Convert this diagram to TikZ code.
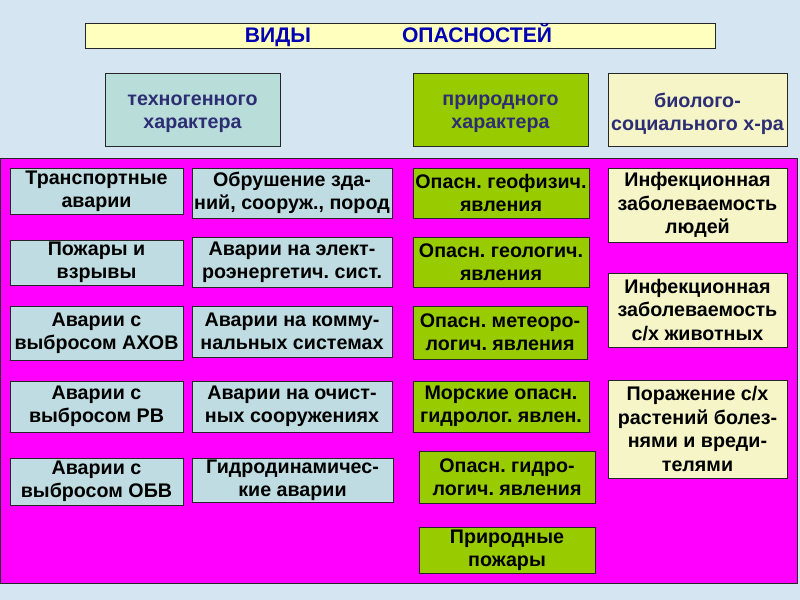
\documentclass[tikz,border=0pt]{standalone}
\usepackage{fontspec}
\setmainfont{Liberation Sans}
\frenchspacing
\definecolor{bgblue}{RGB}{214,229,242}
\definecolor{titleyel}{RGB}{255,255,190}
\definecolor{titleblue}{RGB}{0,0,180}
\definecolor{hdrtext}{RGB}{45,45,115}
\definecolor{teal}{RGB}{185,222,218}
\definecolor{lime}{RGB}{153,204,0}
\definecolor{cream}{RGB}{245,245,200}
\definecolor{mag}{RGB}{255,0,255}
\definecolor{boxblue}{RGB}{190,220,226}
\newcommand\bx[7]{\node[#6, minimum width={0.03cm*(#4-#2)}, minimum height={0.03cm*(#5-#3)}] (#1) at ({(#2+#4)/2},{(#3+#5)/2}) {#7};}
\tikzset{
  base/.style={draw=black!85, line width=0.8pt, inner sep=0pt, align=center, font=\bfseries\fontsize{16.8}{20}\selectfont},
  hdr/.style={base, fill=#1},
  hdrtxt/.style={text=hdrtext, inner sep=0pt, align=center, font=\bfseries\fontsize{16.8}{20}\selectfont},
  tbox/.style={base, fill=boxblue},
  gbox/.style={base, fill=lime},
  cbox/.style={base, fill=cream},
  ttl/.style={text=titleblue, font=\fontsize{18}{20}\selectfont\bfseries, inner sep=0pt, anchor=base},
}
\begin{document}
\begin{tikzpicture}[x=0.03cm, y=-0.03cm]
\fill[bgblue] (0,0) rectangle (800,600);
\useasboundingbox (0,0) rectangle (800,600);
% title
\bx{title}{85}{23}{715}{48}{base, fill=titleyel}{}
\node[ttl] (t1) at (278,43) {ВИДЫ};
\node[ttl] (t2) at (477,43) {ОПАСНОСТЕЙ};
% headers
\bx{h1}{105}{73}{280}{146}{hdr=teal}{}
\bx{h2}{413}{73}{588}{146}{hdr=lime}{}
\bx{h3}{608}{73}{787}{146}{hdr=cream}{}
\node[hdrtxt] (h1t) at (192.5,114) {техногенного\\характера};
\node[hdrtxt] (h2t) at (500.5,114) {природного\\характера};
\node[hdrtxt] (h3t) at (697.5,114) {биолого-\\социального х-ра};
% panel
\draw[fill=mag, draw=black!85, line width=0.8pt] (0,158) rectangle (797,583);
% column 1
\bx{a1}{10}{168}{183}{214}{tbox}{Транспортные\\аварии}
\bx{a2}{10}{240}{183}{285}{tbox}{Пожары и\\взрывы}
\bx{a3}{10}{306}{183}{360}{tbox}{Аварии с\\выбросом АХОВ}
\bx{a4}{10}{381}{183}{432}{tbox}{Аварии с\\выбросом РВ}
\bx{a5}{10}{458}{183}{505}{tbox}{Аварии с\\выбросом ОБВ}
% column 2
\bx{b1}{192}{168}{392}{218}{tbox}{Обрушение зда-\\ний, сооруж., пород}
\bx{b2}{192}{237}{392}{287}{tbox}{Аварии на элект-\\роэнергетич. сист.}
\bx{b3}{192}{306}{392}{357}{tbox}{Аварии на комму-\\нальных системах}
\bx{b4}{192}{381}{392}{432}{tbox}{Аварии на очист-\\ных сооружениях}
\bx{b5}{192}{458}{393}{502}{tbox}{Гидродинамичес-\\кие аварии}
% column 3
\bx{c1}{413}{168}{589}{218}{gbox}{Опасн. геофизич.\\явления}
\bx{c2}{413}{237}{589}{287}{gbox}{Опасн. геологич.\\явления}
\bx{c3}{413}{306}{587}{359}{gbox}{Опасн. метеоро-\\логич. явления}
\bx{c4}{413}{381}{589}{432}{gbox}{Морские опасн.\\гидролог. явлен.}
\bx{c5}{419}{451}{595}{503}{gbox}{Опасн. гидро-\\логич. явления}
\bx{c6}{419}{527}{595}{573}{gbox}{Природные\\пожары}
% column 4
\bx{d1}{608}{168}{787}{242}{cbox}{Инфекционная\\заболеваемость\\людей}
\bx{d2}{608}{273}{787}{347}{cbox}{Инфекционная\\заболеваемость\\с/х животных}
\bx{d3}{608}{380}{787}{478}{cbox}{Поражение с/х\\растений болез-\\нями и вреди-\\телями}
\end{tikzpicture}
\end{document}
